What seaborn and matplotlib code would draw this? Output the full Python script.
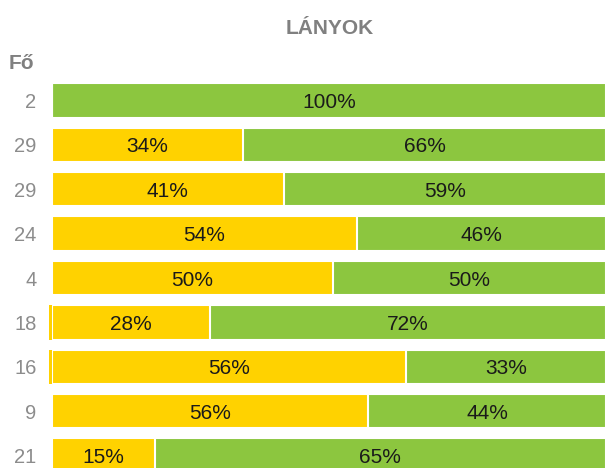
import numpy as np
import pandas as pd
import matplotlib
matplotlib.use("Agg")
import matplotlib.pyplot as plt
import seaborn as sns

# Row labels (head counts) and segment widths
rows = ["2", "29", "29", "24", "4", "18", "16", "9", "21"]
yellow = [0, 34.6, 41.9, 55.1, 50.8, 28.6, 64.0, 57.1, 18.6]
green = [100, 65.4, 58.1, 44.9, 49.2, 71.4, 36.0, 42.9, 81.4]
sliver = [0, 0, 0, 0, 0, 0.45, 0.45, 0, 0]
yellow_labels = ["", "34%", "41%", "54%", "50%", "28%", "56%", "56%", "15%"]
green_labels = ["100%", "66%", "59%", "46%", "50%", "72%", "33%", "44%", "65%"]

YELLOW = "#FFD200"
GREEN = "#8CC63F"

sns.set_style("white")
plt.rcParams['font.family'] = ['Liberation Sans', 'DejaVu Sans']

df = pd.DataFrame({"row": [f"r{i}" for i in range(len(rows))],
                   "yellow": yellow, "green": green})
df["total"] = df["yellow"] + df["green"]

fig = plt.figure(figsize=(6.05, 4.68), dpi=100)
ax = fig.add_axes([0.0855, 0.0, 0.916, 0.8333])

sns.barplot(data=df, x="total", y="row", color=GREEN, orient="h", width=0.775,
            edgecolor="white", linewidth=1.5, saturation=1, ax=ax)
sns.barplot(data=df, x="yellow", y="row", color=YELLOW, orient="h", width=0.775,
            edgecolor="white", linewidth=1.5, saturation=1, ax=ax)

# thin slivers left of zero
ypos = np.arange(len(rows))
ax.barh(ypos, sliver, left=-np.array(sliver), height=0.775, color=YELLOW,
        linewidth=0, clip_on=False)

for i in range(len(rows)):
    if yellow_labels[i]:
        ax.text(yellow[i] / 2, i, yellow_labels[i], ha="center", va="center_baseline",
                fontsize=15, color="#1a1a1a")
    ax.text(yellow[i] + green[i] / 2, i, green_labels[i], ha="center",
            va="center_baseline", fontsize=15, color="#1a1a1a")

ax.set_xlim(0, 100)
ax.set_ylim(8.28, -0.507)
ax.set_yticks(ypos)
ax.set_yticklabels(rows, fontsize=14.5, color="#8c8c8c")
ax.tick_params(axis="y", length=0, pad=11)
ax.set_xticks([])
ax.set_xlabel("")
ax.set_ylabel("")
sns.despine(ax=ax, left=True, bottom=True)

fig.text(0.545, 0.940, "LÁNYOK", ha="center", va="center", fontsize=15,
         fontweight="bold", color="#808080")
fig.text(0.015, 0.865, "Fő", ha="left", va="center", fontsize=15,
         fontweight="bold", color="#808080")

fig.savefig("out.png", dpi=100)
